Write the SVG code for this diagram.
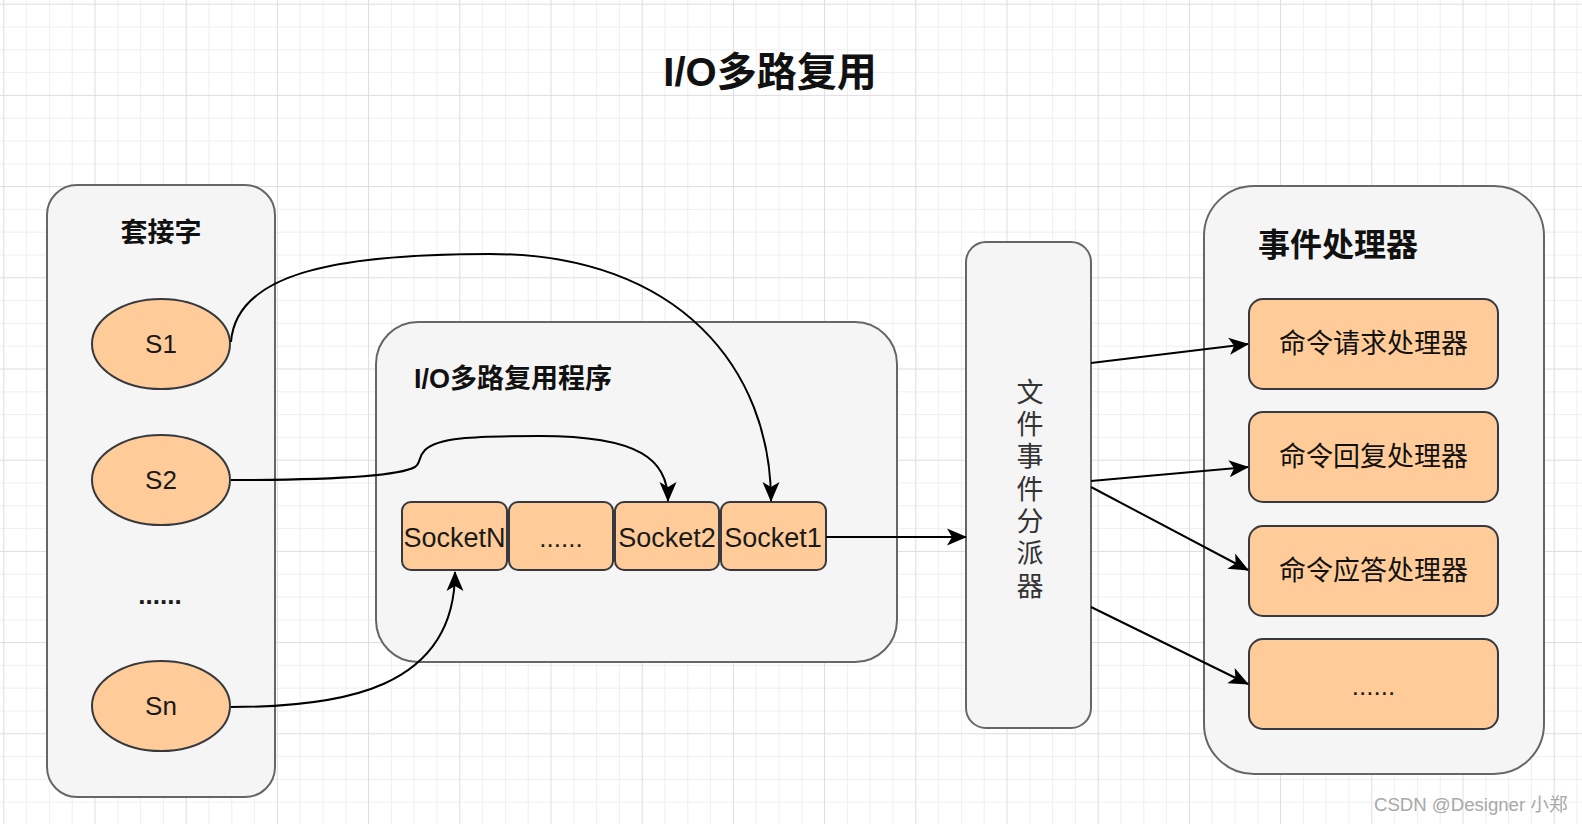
<svg xmlns="http://www.w3.org/2000/svg" width="1582" height="824" viewBox="0 0 1582 824">
<style>
.cont{fill:#f5f5f5;stroke:#666666;stroke-width:2}
.org{fill:#ffcc99;stroke:#36393d;stroke-width:2}
.lat{font-family:"Liberation Sans",Arial,sans-serif;fill:#1a1a1a}
.cjk{font-family:"Liberation Sans","Noto Sans CJK SC",sans-serif;fill:#111}
.bold{font-weight:bold}
.conn{fill:none;stroke:#000;stroke-width:2}
</style>
<defs>
<pattern id="grid" width="91.2" height="91.2" patternUnits="userSpaceOnUse" x="3.3" y="3.7">
<path d="M23.3 0V91.2M46.1 0V91.2M68.9 0V91.2M0 23.3H91.2M0 46.1H91.2M0 68.9H91.2" stroke="#efefef" stroke-width="1"/>
<path d="M0.5 0V91.2M0 0.5H91.2" stroke="#dddddd" stroke-width="1"/>
</pattern>
<marker id="arr" markerUnits="userSpaceOnUse" viewBox="0 0 22 20" markerWidth="22" markerHeight="20" refX="21" refY="10" orient="auto">
<path d="M22,10 L2,1.5 L7,10 L2,18.5 Z" fill="#000"/>
</marker>
</defs>
<rect width="1582" height="824" fill="#ffffff"/>
<rect width="1582" height="824" fill="url(#grid)"/>

<g id="title">
<text x="770" y="86" text-anchor="middle" font-size="40" class="cjk bold">I/O多路复用</text>
</g>

<g id="sockets-group">
<rect x="47" y="185" width="228" height="612" rx="30" class="cont"/>
<text x="161" y="242" text-anchor="middle" font-size="27" class="cjk bold">套接字</text>
</g>
<g id="s1">
<ellipse cx="161" cy="344" rx="69" ry="45" class="org"/>
<text x="161" y="353" text-anchor="middle" font-size="26" class="lat">S1</text>
</g>
<g id="s2">
<ellipse cx="161" cy="480" rx="69" ry="45" class="org"/>
<text x="161" y="489" text-anchor="middle" font-size="26" class="lat">S2</text>
</g>
<g id="s-dots">
<text x="160" y="604" text-anchor="middle" font-size="26" class="lat bold">......</text>
</g>
<g id="sn">
<ellipse cx="161" cy="706" rx="69" ry="45" class="org"/>
<text x="161" y="715" text-anchor="middle" font-size="26" class="lat">Sn</text>
</g>

<g id="multiplexer">
<rect x="376" y="322" width="521" height="340" rx="42" class="cont"/>
<text x="414" y="388" font-size="27" class="cjk bold">I/O多路复用程序</text>
</g>
<g id="socketN">
<rect x="402" y="502" width="105" height="68" rx="9" class="org"/>
<text x="454.5" y="547" text-anchor="middle" font-size="27" class="lat">SocketN</text>
</g>
<g id="socket-dots">
<rect x="509" y="502" width="104" height="68" rx="9" class="org"/>
<text x="561" y="547" text-anchor="middle" font-size="26" class="lat">......</text>
</g>
<g id="socket2">
<rect x="615" y="502" width="104" height="68" rx="9" class="org"/>
<text x="667" y="547" text-anchor="middle" font-size="27" class="lat">Socket2</text>
</g>
<g id="socket1">
<rect x="721" y="502" width="105" height="68" rx="9" class="org"/>
<text x="773" y="547" text-anchor="middle" font-size="27" class="lat">Socket1</text>
</g>

<g id="dispatcher">
<rect x="966" y="242" width="125" height="486" rx="20" class="cont"/>
<text x="1030" y="378" font-size="27" writing-mode="vertical-rl" letter-spacing="5.3" style="font-family:'Noto Sans CJK SC',sans-serif;fill:#333333">文件事件分派器</text>
</g>

<g id="handlers">
<rect x="1204" y="186" width="340" height="588" rx="50" class="cont"/>
<text x="1338" y="256" text-anchor="middle" font-size="32" class="cjk bold">事件处理器</text>
</g>
<g id="h1">
<rect x="1249" y="299" width="249" height="90" rx="14" class="org"/>
<text x="1373.5" y="353" text-anchor="middle" font-size="27" class="cjk">命令请求处理器</text>
</g>
<g id="h2">
<rect x="1249" y="412" width="249" height="90" rx="14" class="org"/>
<text x="1373.5" y="466" text-anchor="middle" font-size="27" class="cjk">命令回复处理器</text>
</g>
<g id="h3">
<rect x="1249" y="526" width="249" height="90" rx="14" class="org"/>
<text x="1373.5" y="580" text-anchor="middle" font-size="27" class="cjk">命令应答处理器</text>
</g>
<g id="h4">
<rect x="1249" y="639" width="249" height="90" rx="14" class="org"/>
<text x="1373.5" y="695" text-anchor="middle" font-size="26" class="lat">......</text>
</g>

<g id="connectors">
<path class="conn" marker-end="url(#arr)" d="M231,342 C236,275 330,254 490,254 C680,254 771,370 771,501"/>
<path class="conn" marker-end="url(#arr)" d="M231,480 C300,480 395,478 415,467 C421,463 418,457 425,450 C437,438 470,436 540,436 C640,436 668,460 668,501"/>
<path class="conn" marker-end="url(#arr)" d="M231,707 C340,707 455,690 455,572"/>
<path class="conn" marker-end="url(#arr)" d="M826,537 L966,537"/>
<path class="conn" marker-end="url(#arr)" d="M1091,363 L1248,344"/>
<path class="conn" marker-end="url(#arr)" d="M1091,481 L1248,467"/>
<path class="conn" marker-end="url(#arr)" d="M1091,487 L1248,570"/>
<path class="conn" marker-end="url(#arr)" d="M1091,607 L1248,684"/>
</g>

<g id="watermark">
<text x="1374" y="811" font-size="18.6" style="font-family:'Liberation Sans','Noto Sans CJK SC',sans-serif;fill:#a8a8a8">CSDN @Designer 小郑</text>
</g>
</svg>
